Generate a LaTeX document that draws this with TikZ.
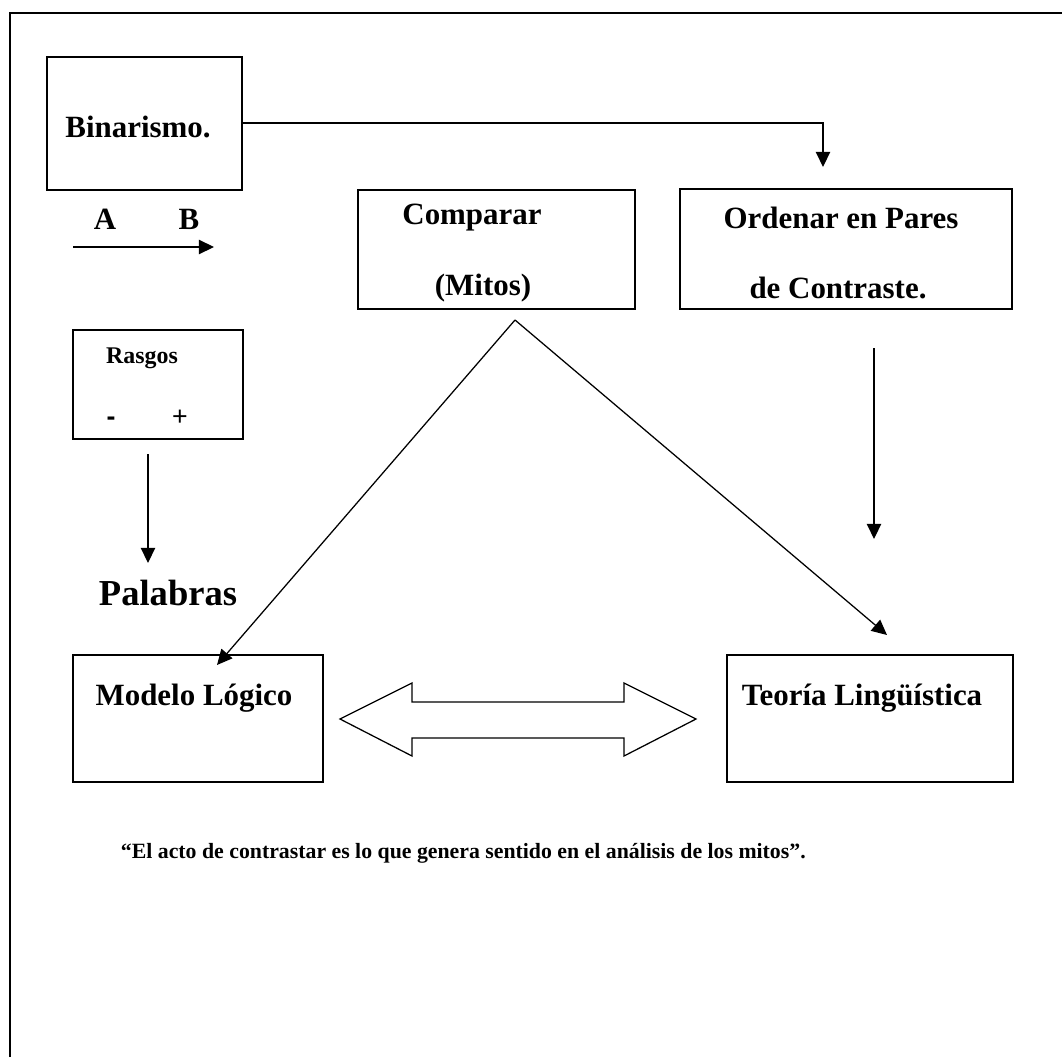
\documentclass[tikz,border=0pt]{standalone}
\usepackage{fontspec}
\setmainfont{Liberation Serif}
\setsansfont{Liberation Sans}
\usetikzlibrary{arrows.meta}
\begin{document}
\begin{tikzpicture}[
  x=0.025cm, y=-0.025cm,
  >={Triangle[length=0.38cm, width=0.36cm]},
  box/.style={draw, line width=1pt, inner sep=0pt},
  lbl/.style={font=\fontsize{22}{26}\selectfont\bfseries, inner sep=0pt},
  small/.style={font=\fontsize{17}{20}\selectfont\bfseries, inner sep=0pt},
  arr/.style={->, line width=0.9pt}
]
\useasboundingbox (0,0) rectangle (1062,1057);

%% Outer frame
\draw[line width=1.6pt] (10,1057) -- (10,13) -- (1062,13);

%% Boxes
\node[box, minimum width=4.875cm, minimum height=3.325cm] (bin) at (144.5,123.5) {};
\node[box, minimum width=6.925cm, minimum height=2.975cm] (comp) at (496.5,249.5) {};
\node[box, minimum width=8.3cm, minimum height=3cm] (ord) at (846,249) {};
\node[box, minimum width=4.25cm, minimum height=2.725cm] (ras) at (158,384.5) {};
\node[box, minimum width=6.25cm, minimum height=3.175cm] (mod) at (198,718.5) {};
\node[box, minimum width=7.15cm, minimum height=3.175cm] (teo) at (870,718.5) {};

%% Texts
\node[lbl] (tbin) at (138,127) {Binarismo.};
\node[lbl] (ta) at (105,219) {A};
\node[lbl] (tb) at (189,219) {B};
\node[lbl] (tcomp) at (472,218) {Comparar};
\node[lbl] (tmit) at (483,288) {(Mitos)};
\node[lbl] (tord) at (841,218) {Ordenar en Pares};
\node[lbl] (tcon) at (838,288) {de Contraste.};
\node[small] (tras) at (142,358) {Rasgos};
\node[font=\fontsize{19}{22}\selectfont\sffamily\bfseries] (tmin) at (111,421) {-};
\node[font=\fontsize{19}{22}\selectfont\sffamily] (tplus) at (180,418) {+};
\node[font=\fontsize{26}{30}\selectfont\bfseries, inner sep=0pt] (tpal) at (168,593) {Palabras};
\node[lbl] (tmod) at (194,698) {Modelo Lógico};
\node[lbl] (tteo) at (862,698) {Teoría Lingüística};
\node[font=\fontsize{15.5}{18}\selectfont\bfseries, anchor=west] (quote) at (116,853)
  {“El acto de contrastar es lo que genera sentido en el análisis de los mitos”.};

%% Connectors
\coordinate (abs) at (73,247);
\coordinate (abe) at (214,247);
\draw[arr] (abs) -- (abe);

\coordinate (binend) at (823,167);
\draw[arr] (bin.east |- 0,123) -- (823,123) -- (binend);

\coordinate (apex) at (515,320);
\coordinate (modtip) at (217,665);
\coordinate (teotip) at (887,635);
\draw[arr] (apex) -- (modtip);
\draw[arr] (apex) -- (teotip);

\coordinate (rastop) at (148,454);
\coordinate (rasend) at (148,563);
\draw[arr] (rastop) -- (rasend);

\coordinate (ordtop) at (874,348);
\coordinate (ordend) at (874,539);
\draw[arr] (ordtop) -- (ordend);

%% Double arrow between models
\draw[line width=0.9pt, line join=miter] (340,719) -- (412,683) -- (412,702) -- (624,702) -- (624,683)
  -- (696,719) -- (624,756) -- (624,738) -- (412,738) -- (412,756) -- cycle;

\end{tikzpicture}
\end{document}
